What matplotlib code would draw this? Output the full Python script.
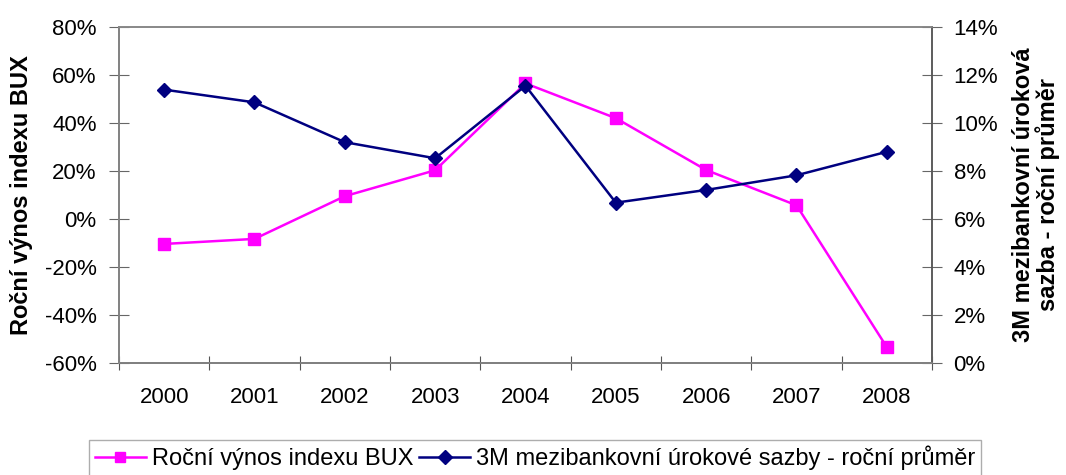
import matplotlib
matplotlib.use('Agg')
import matplotlib.pyplot as plt
from matplotlib.ticker import FuncFormatter

plt.rcParams['font.family'] = ['Liberation Sans', 'DejaVu Sans']

years = ['2000', '2001', '2002', '2003', '2004', '2005', '2006', '2007', '2008']
# annual return of BUX index, %
bux_return = [-10.4, -8.3, 9.5, 20.3, 56.5, 42.0, 20.4, 5.7, -53.4]
# 3M interbank rate, annual average, %
interbank_rate = [11.39, 10.86, 9.2, 8.53, 11.55, 6.68, 7.21, 7.82, 8.80]

label_bux = 'Roční výnos indexu BUX'
label_rate = '3M mezibankovní úrokové sazby - roční průměr'

fig = plt.figure(figsize=(10.66, 4.75), dpi=100)
ax = fig.add_axes([0.1116, 0.2358, 0.7627, 0.7074])
ax2 = ax.twinx()

x = list(range(len(years)))
l1, = ax.plot(x, bux_return, color='#FF00FF', marker='s', markersize=8,
              linewidth=1.8, label=label_bux, zorder=3)
l2, = ax2.plot(x, interbank_rate, color='#000080', marker='D', markersize=7,
               linewidth=1.8, label=label_rate, zorder=3)

ax.set_xlim(-0.5, len(years) - 0.5)
ax.set_ylim(-60, 80)
ax.set_yticks(range(-60, 81, 20))
ax2.set_ylim(0, 14)
ax2.set_yticks(range(0, 15, 2))
pct = FuncFormatter(lambda v, p: f'{v:.0f}%')
ax.yaxis.set_major_formatter(pct)
ax2.yaxis.set_major_formatter(pct)

# category labels between boundary ticks
ax.set_xticks([i - 0.5 for i in range(len(years) + 1)])
ax.set_xticklabels([])
ax.set_xticks(x, minor=True)
ax.set_xticklabels(years, minor=True)
ax.tick_params(axis='x', which='minor', direction='out', length=0, pad=17, labelsize=16)
ax.tick_params(axis='x', which='major', direction='inout', length=10, color='#555555')
ax.tick_params(axis='y', direction='inout', length=14, labelsize=16, color='#666666', pad=9)
ax2.tick_params(axis='y', direction='inout', length=14, labelsize=16, color='#666666', pad=8.5)

for a in (ax, ax2):
    for s in a.spines.values():
        s.set_color('#888888')
        s.set_linewidth(1.2)
ax.spines['left'].set_color('#555555')
ax.spines['bottom'].set_color('#444444')
ax2.spines['right'].set_color('#555555')

ax.set_ylabel(label_bux, fontsize=17, fontweight='bold')
ax.yaxis.set_label_coords(-0.106, 0.5)
ax2.set_ylabel('3M mezibankovní úroková\nsazba - roční průměr', fontsize=17,
               fontweight='bold', rotation=90, linespacing=1.0)
ax2.yaxis.set_label_coords(1.098, 0.5)

leg = fig.legend(handles=[l1, l2], loc='upper center', bbox_to_anchor=(0.502, 0.0737),
                 ncol=2, frameon=True, fancybox=False, fontsize=17,
                 handlelength=2.16, handletextpad=0.25, columnspacing=0.25,
                 borderpad=0.25, borderaxespad=0)
leg.get_frame().set_edgecolor('#999999')
leg.get_frame().set_linewidth(1.0)
for h in leg.legend_handles:
    h.set_markersize(7)

fig.savefig('out.png', dpi=100)
